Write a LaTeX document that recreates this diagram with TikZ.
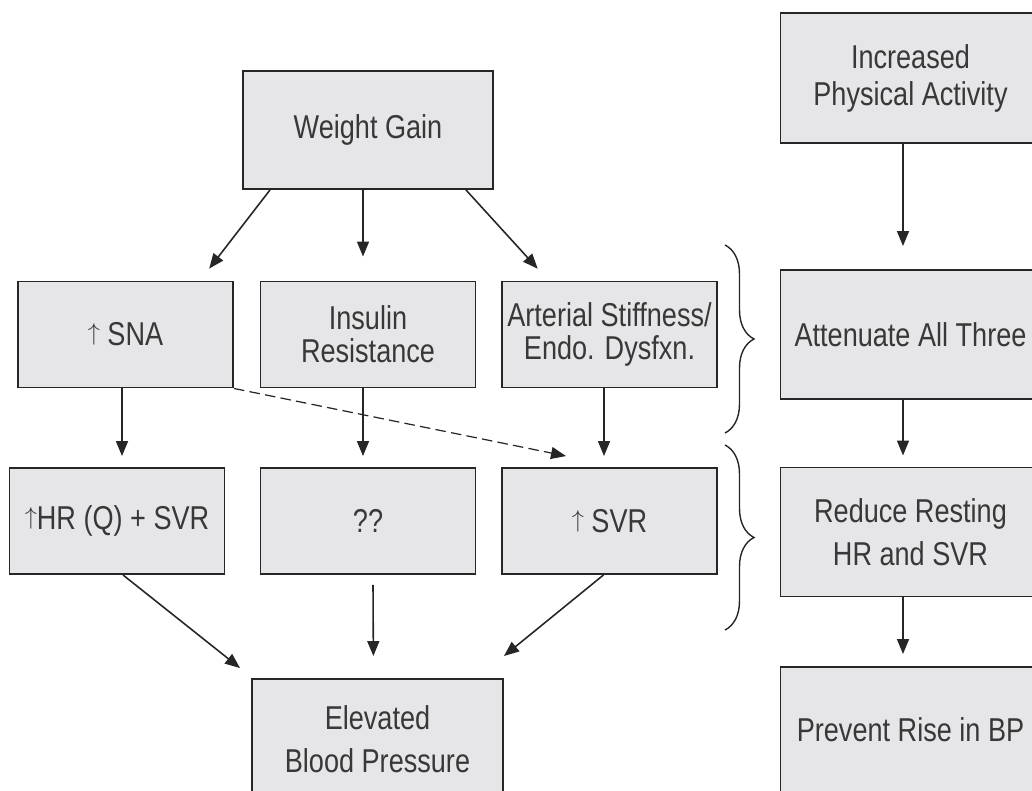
\documentclass[tikz,border=0pt]{standalone}
\usepackage{fontspec}
\setmainfont[FakeStretch=0.82]{Liberation Sans}
\usepackage{tikz}
\usetikzlibrary{arrows.meta,positioning,decorations.pathreplacing}

\definecolor{boxgray}{HTML}{E6E6E8}
\definecolor{inkgray}{HTML}{383838}
\newcommand{\upmark}{\raisebox{2.9pt}{\scalebox{0.8}{$\uparrow$}}}

\begin{document}
\begin{tikzpicture}[every node/.style={font=\fontsize{18.8}{18.8}\selectfont, text=inkgray},
        box/.style={rectangle, draw=black!85, fill=boxgray, line width=1.1pt, align=center, inner sep=0pt},
        cause/.style={box, minimum width=4.3cm, minimum height=2.12cm},
        big/.style={box, minimum width=5.02cm, minimum height=2.4cm},
        side/.style={box, minimum width=5.2cm, minimum height=2.58cm},
        link/.style={-{Triangle[length=0.3cm,width=0.24cm]}, line width=0.9pt, draw=black!85},
        gap/.style={shorten >=#1},
        curly/.style={decorate, decoration={brace, amplitude=0.58cm}, line width=0.8pt, draw=black!85}]
        \useasboundingbox (0,0) rectangle (20.64,-15.82);

        % Nodes
        \node[big, minimum width=5cm, minimum height=2.36cm] (wg) at (7.36,-2.6) {Weight Gain};
        \node[cause] (sna) at (2.51,-6.69) {\upmark\ SNA};
        \node[cause] (ins) at (7.36,-6.69) {Insulin\\Resistance};
        \node[cause] (art) at (12.19,-6.69) {Arterial Stiffness/\\Endo. Dysfxn.};
        \node[cause] (hr) at (2.34,-10.42) {\upmark HR (Q) + SVR};
        \node[cause] (qq) at (7.36,-10.42) {??};
        \node[cause] (svr) at (12.19,-10.42) {\upmark\ SVR};
        \node[big] (bp) at (7.55,-14.78) {Elevated\\[0.2cm]Blood Pressure};

        \node[side, minimum height=2.6cm] (ipa) at (18.21,-1.56) {Increased\\[0.08cm]Physical Activity};
        \node[side] (att) at (18.21,-6.69) {Attenuate All Three};
        \node[side] (red) at (18.21,-10.64) {Reduce Resting\\[0.2cm]HR and SVR};
        \node[side, minimum height=2.52cm] (prev) at (18.21,-14.6) {Prevent Rise in BP};

        % Links
        \draw[link, gap=0.3cm] ([xshift=-1.96cm]wg.south) -- ([xshift=1.49cm]sna.north);
        \draw[link, gap=0.48cm] ([xshift=-0.1cm]wg.south) -- ([xshift=-0.1cm]ins.north);
        \draw[link, gap=0.32cm] ([xshift=1.96cm]wg.south) -- ([xshift=-1.22cm]art.north);
        \draw[link, gap=0.22cm] ([xshift=-0.07cm]sna.south) -- ([xshift=-0.07cm]sna.south |- hr.north);
        \draw[link, gap=0.22cm] ([xshift=-0.1cm]ins.south) -- ([xshift=-0.1cm]qq.north);
        \draw[link, gap=0.22cm] ([xshift=-0.11cm]art.south) -- ([xshift=-0.11cm]svr.north);
        \draw[link, dashed, dash pattern=on 6pt off 3pt, line width=0.7pt] (sna.south east) -- ([xshift=-0.87cm,yshift=0.22cm]svr.north);
        \draw[link] ([xshift=0.12cm]hr.south) -- ([xshift=-0.22cm,yshift=0.2cm]bp.north west);
        \draw[link, gap=0.44cm] ([xshift=0.1cm,yshift=-0.2cm]qq.south) -- ([xshift=-0.08cm]bp.north);
        \draw[link] ([xshift=-0.12cm]svr.south) -- ([yshift=0.44cm]bp.north east);

        \draw[link, gap=0.46cm] ([xshift=-0.15cm]ipa.south) -- ([xshift=-0.15cm]att.north);
        \draw[link, gap=0.22cm] ([xshift=-0.15cm]att.south) -- ([xshift=-0.15cm]red.north);
        \draw[link, gap=0.24cm] ([xshift=-0.15cm]red.south) -- ([xshift=-0.15cm]prev.north);

        % Braces
        \draw[curly] (14.5,-4.9) -- (14.5,-8.66);
        \draw[curly] (14.5,-8.9) -- (14.5,-12.6);
    \end{tikzpicture}
\end{document}
